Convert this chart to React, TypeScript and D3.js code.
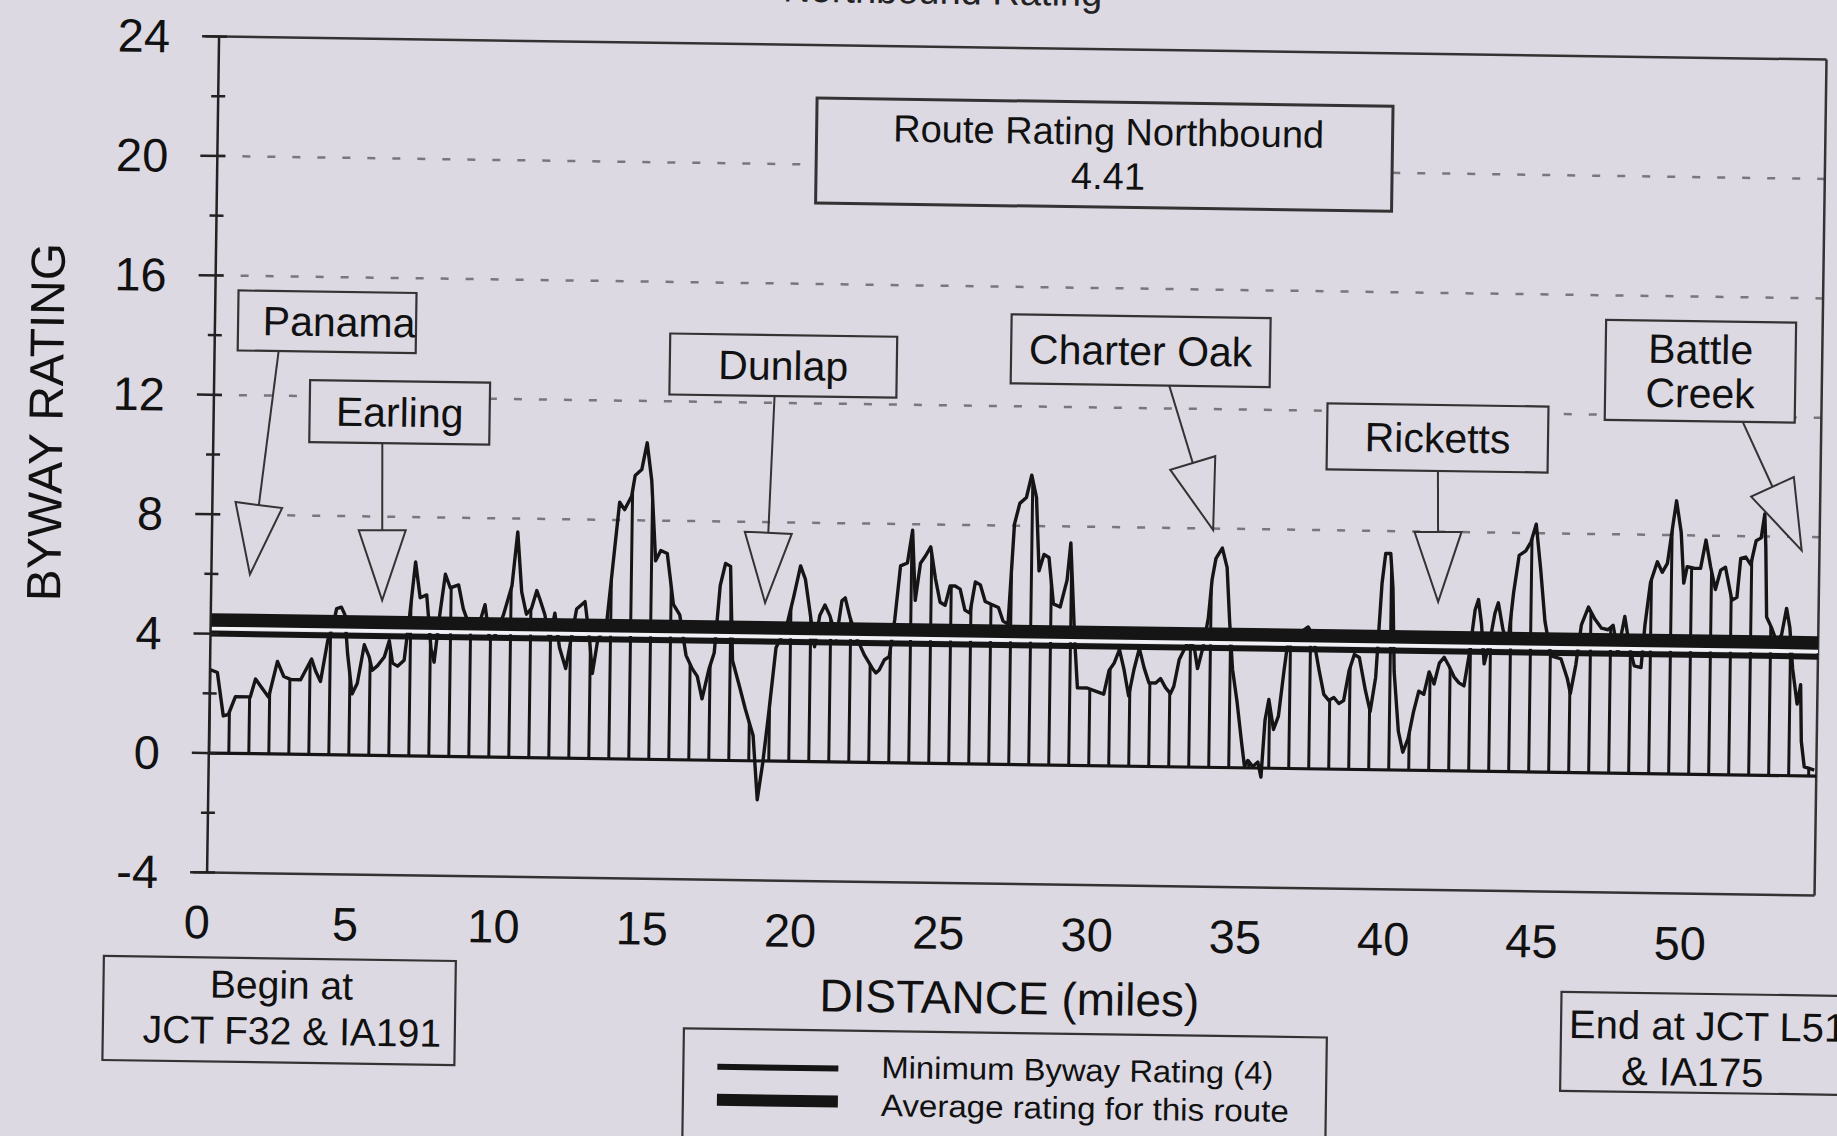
import React from 'react';
import * as d3 from 'd3';

// ---------------- data ----------------
const miles = [
  0.0, 0.25, 0.47, 0.64, 0.87, 1.37, 1.54, 1.76, 1.99, 2.27, 2.49, 2.74, 3.06, 3.42, 3.56, 3.73, 3.96, 4.12, 4.24, 4.4,
  4.52, 4.63, 4.8, 4.97, 5.19, 5.36, 5.47, 5.64, 5.87, 6.03, 6.15, 6.32, 6.54, 6.71, 6.88, 7.05, 7.27, 7.44, 7.55, 7.72,
  7.89, 8.06, 8.34, 8.51, 8.68, 9.01, 9.24, 9.41, 9.58, 9.86, 10.14, 10.31, 10.47, 10.64, 10.81, 10.98,
  11.09, 11.26, 11.43, 11.6, 11.77, 11.99, 12.16, 12.33, 12.61, 12.78, 12.89, 13.06, 13.34, 13.51, 13.73, 13.9, 14.13,
  14.24, 14.46, 14.63, 14.8, 14.97, 15.14, 15.36, 15.59, 15.81, 16.04, 16.26, 16.43, 16.6, 16.82, 16.99, 17.16, 17.33,
  17.5, 17.61, 17.84, 18.06, 18.23, 18.34, 18.51, 18.68, 18.85, 19.07, 19.41, 19.64, 19.86, 20.03, 20.2, 20.37, 20.53,
  20.7, 20.87, 21.1, 21.27, 21.38, 21.55, 21.77, 22.05, 22.33,
  22.45, 22.56, 22.73, 22.89, 23.06, 23.23, 23.46, 23.62, 23.74, 23.9, 24.07, 24.24, 24.41, 24.58, 24.75, 24.91, 25.08,
  25.25, 25.42, 25.59, 25.76, 25.93, 26.1, 26.32, 26.55, 26.71, 26.88, 27.05, 27.22, 27.44, 27.61, 27.78, 27.9, 28.06,
  28.23, 28.4, 28.63, 28.85, 28.96, 29.13, 29.25, 29.58, 29.86, 30.14, 30.31, 30.48, 30.65, 30.81, 30.98, 31.15, 31.32,
  31.49, 31.66, 31.89, 32.05, 32.22, 32.39, 32.5, 32.67, 32.84, 33.01, 33.18, 33.29, 33.46, 33.63,
  33.74, 33.86, 34.07, 34.24, 34.35, 34.47, 34.64, 34.81, 34.92, 35.03, 35.2, 35.37, 35.48, 35.59, 35.71, 35.88, 36.04,
  36.21, 36.32, 36.44, 36.72, 37.0, 37.17, 37.39, 37.56, 37.73, 37.9, 38.07, 38.23, 38.4, 38.57, 38.74, 38.96, 39.13,
  39.3, 39.47, 39.58, 39.75, 39.84, 39.92, 40.09, 40.25, 40.42, 40.59, 40.76, 40.93, 41.1, 41.27, 41.44, 41.6, 41.77,
  41.94, 42.11, 42.28, 42.45, 42.62, 42.73, 42.84, 42.95, 43.12, 43.29, 43.4, 43.57, 43.74, 43.91, 44.08, 44.3, 44.47,
  44.64, 44.81, 44.98,
  45.2, 45.54, 45.76, 45.87, 46.04, 46.21, 46.44, 46.66, 46.89, 47.11, 47.28, 47.45, 47.67, 47.84, 48.01, 48.24, 48.35,
  48.52, 48.74, 48.91, 49.08, 49.25, 49.36, 49.53, 49.64, 49.75, 49.98, 50.2, 50.37, 50.54, 50.71, 50.88, 51.04, 51.27,
  51.44, 51.55, 51.72, 51.89, 52.06, 52.23, 52.34, 52.39, 52.45, 52.62, 52.79, 52.96, 53.12, 53.24, 53.35, 53.52, 53.63,
  53.68, 53.79, 53.96, 54.13,
];

const ratings = [
  2.8, 2.7, 1.25, 1.3, 1.9, 1.9, 2.5, 2.2, 1.9, 3.1, 2.6, 2.5, 2.5, 3.2, 2.8, 2.45, 3.85, 4.3, 4.9, 4.95,
  4.7, 3.4, 2.05, 2.4, 3.7, 3.3, 2.85, 3.0, 3.3, 3.85, 3.1, 3.0, 3.2, 4.75, 6.5, 5.3, 5.4, 3.6, 3.15, 4.75,
  6.1, 5.65, 5.75, 4.95, 4.5, 4.3, 5.1, 3.95, 4.05, 4.75, 5.75, 7.55, 5.55, 4.8, 5.0, 5.6,
  5.3, 4.8, 3.95, 4.85, 3.7, 3.0, 4.0, 5.0, 5.25, 4.0, 2.85, 4.0, 4.45, 6.25, 8.6, 8.35, 8.8,
  9.5, 9.7, 10.6, 9.35, 6.65, 7.0, 6.9, 5.2, 4.85, 3.5, 3.05, 2.8, 2.05, 3.05, 3.6, 5.85, 6.6,
  6.5, 3.35, 2.55, 1.75, 1.2, 0.85, -1.3, -0.05, 1.55, 3.8, 4.5, 5.5, 6.55, 6.1, 5.0, 3.85, 4.9,
  5.25, 4.9, 4.15, 5.4, 5.5, 4.85, 4.2, 3.6, 3.15,
  3.0, 3.1, 3.45, 3.55, 4.8, 6.6, 6.7, 7.8, 5.45, 6.7, 6.95, 7.25, 6.2, 5.4, 5.3, 5.95, 5.95,
  5.85, 5.15, 5.05, 6.1, 6.0, 5.45, 5.35, 5.25, 4.8, 4.7, 8.05, 8.75, 8.95, 9.7, 8.95, 6.5, 7.05,
  6.95, 5.4, 5.3, 6.2, 7.45, 4.3, 2.6, 2.6, 2.5, 2.4, 3.2, 3.45, 3.9, 3.25, 2.35, 3.25, 3.95,
  3.3, 2.8, 2.8, 2.95, 2.65, 2.45, 2.7, 3.6, 3.95, 4.3, 3.95, 3.3, 4.0, 5.0,
  6.3, 7.0, 7.35, 6.7, 4.9, 3.3, 2.2, 0.85, 0.05, 0.25, 0.05, 0.2, -0.3, 1.6, 2.3, 1.3, 1.75,
  3.3, 4.2, 4.45, 4.55, 4.75, 4.45, 3.3, 2.5, 2.3, 2.4, 2.2, 2.3, 3.3, 3.85, 3.75, 2.65, 1.95,
  3.1, 6.25, 7.25, 7.25, 6.1, 3.3, 1.3, 0.6, 1.05, 1.95, 2.65, 2.55, 3.3, 2.9, 3.6, 3.8, 3.5,
  3.15, 2.95, 2.85, 3.95, 5.4, 5.75, 4.95, 3.6, 4.3, 5.3, 5.65, 4.75, 4.3, 6.0, 7.25, 7.4, 7.7,
  8.3, 6.8, 5.05,
  3.9, 3.8, 3.15, 2.65, 3.6, 4.95, 5.55, 5.15, 4.85, 4.8, 4.95, 4.05, 5.25, 4.25, 3.6, 3.55, 4.95,
  6.4, 7.1, 6.75, 7.05, 8.35, 9.15, 8.1, 6.4, 6.95, 6.9, 6.9, 7.85, 6.95, 6.2, 6.85, 6.95, 5.85,
  5.95, 7.25, 7.3, 7.05, 7.85, 7.95, 8.75, 7.65, 5.3, 4.95, 4.5, 4.7, 5.6, 4.95, 3.6, 2.4, 3.05,
  1.15, 0.3, 0.25, 0.2,
];

const routeLength = 54.2;
const yTicks = [-4, 0, 4, 8, 12, 16, 20, 24];
const yMinorTicks = [-2, 2, 6, 10, 14, 18, 22];
const xTicks = [0, 5, 10, 15, 20, 25, 30, 35, 40, 45, 50];
const gridValues = [8, 12, 16, 20];
const minimumRating = 4;
const averageRating = 4.41;

const chartTitle = 'Northbound Rating';
const routeRatingLines = ['Route Rating Northbound', '4.41'];
const xAxisTitle = 'DISTANCE (miles)';
const yAxisTitle = 'BYWAY RATING';
const beginLines = ['Begin at', 'JCT F32 & IA191'];
const endLines = ['End at JCT L51', '& IA175'];
const legendLabels = ['Minimum Byway Rating (4)', 'Average rating for this route'];

// town callouts: labels, arrow tip (mile, rating), box centre (mile, rating), stem start mile
const townLabels = [['Panama'], ['Earling'], ['Dunlap'], ['Charter Oak'], ['Ricketts'], ['Battle', 'Creek']];
const townTipMiles = [1.3, 5.77, 18.68, 33.75, 41.37, 53.6];
const townTipRatings = [6.0, 5.2, 5.3, 7.95, 5.65, 7.55];
const townBoxMiles = [3.78, 6.27, 19.18, 31.22, 41.27, 50.1];
const townBoxRatings = [14.5, 11.5, 13.25, 13.92, 11.14, 13.5];
const townStemMiles = [2.16, 5.7, 18.9, 32.2, 41.3, 51.55];

// ---------------- layout / style ----------------
const W = 1837;
const H = 1136;
const BG = '#dcd9e3';
const INK = '#151515';
const FONT = '"Liberation Sans", Arial, Helvetica, sans-serif';
const TILT = 0.82;
const townBoxSize = [[178, 60], [180, 62], [227, 61], [259, 69], [221, 66], [190, 100]];
const townTextDx = [12, 0, 0, 0, 0, 0];

export default function App() {
  const x = d3.scaleLinear().domain([0, routeLength]).range([213, 1820.6]);
  const y = d3.scaleLinear().domain([-4, 24]).range([884, 48]);

  const idx = d3.range(miles.length);
  const area = d3
    .area<number>()
    .x((i) => x(miles[i]))
    .y0(y(0))
    .y1((i) => y(ratings[i]));
  const line = d3
    .line<number>()
    .x((i) => x(miles[i]))
    .y((i) => y(ratings[i]));

  const x0 = x(0);
  const x1 = x(routeLength);
  const cx = (x0 + x1) / 2;
  const cy = 466;

  const tickFont = 47;
  const boxFont = 41;

  const callouts = townLabels.map((lab, i) => {
    const tx = x(townTipMiles[i]);
    const ty = y(townTipRatings[i]);
    const bx = x(townBoxMiles[i]);
    const by = y(townBoxRatings[i]);
    const [bw, bh] = townBoxSize[i];
    const sx = x(townStemMiles[i]);
    const sy = by + bh / 2;
    const dx = tx - sx;
    const dy = ty - sy;
    const len = Math.hypot(dx, dy);
    const ux = dx / len;
    const uy = dy / len;
    const L = 70;
    const HW = 23.5;
    const basex = tx - ux * L;
    const basey = ty - uy * L;
    const nx = -uy;
    const ny = ux;
    const tri = [
      [basex + nx * HW, basey + ny * HW],
      [tx, ty],
      [basex - nx * HW, basey - ny * HW],
    ];
    return { lab, bx, by, bw, bh, sx, sy, basex, basey, tri, tdx: townTextDx[i] };
  });

  const rrBoxX = x(29.9);
  const rrBoxY = y(20.47);

  return (
    <svg
      width={W}
      height={H}
      viewBox={`0 0 ${W} ${H}`}
      style={{ position: 'absolute', left: 0, top: 0, display: 'block', overflow: 'hidden' }}
      fontFamily={FONT}
    >
      <defs>
        <pattern id="hatch" patternUnits="userSpaceOnUse" x={x0 - 1.5} y={0} width={20} height={10}>
          <rect x={0} y={0} width={3} height={10} fill={INK} />
        </pattern>
      </defs>
      <rect x={0} y={0} width={W} height={H} fill={BG} />
      <g transform={`rotate(${TILT} ${cx} ${cy})`}>
        {/* title (cut off at top) */}
        <text x={936} y={5} fontSize={38} textAnchor="middle" fill="#222">
          {chartTitle}
        </text>

        {/* grid */}
        {gridValues.map((v) => (
          <line
            key={`g${v}`}
            x1={x0}
            x2={x1}
            y1={y(v)}
            y2={y(v)}
            stroke="#77777d"
            strokeWidth={2.5}
            strokeDasharray="8 17"
          />
        ))}

        {/* frame */}
        <line x1={x0 - 14} x2={x1} y1={y(24)} y2={y(24)} stroke="#333" strokeWidth={2.5} />
        <line x1={x0 - 14} x2={x1} y1={y(-4)} y2={y(-4)} stroke="#333" strokeWidth={2.5} />
        <line x1={x1} x2={x1} y1={y(24)} y2={y(-4)} stroke="#333" strokeWidth={2.5} />

        {/* hatched area + profile */}
        <path d={area(idx) ?? ''} fill="url(#hatch)" />
        <line x1={x0} x2={x1} y1={y(0)} y2={y(0)} stroke={INK} strokeWidth={3.2} />
        <path d={line(idx) ?? ''} fill="none" stroke={INK} strokeWidth={3.4} strokeLinejoin="round" />

        {/* minimum & average lines */}
        <line
          x1={x0}
          x2={x1}
          y1={y((minimumRating + averageRating) / 2)}
          y2={y((minimumRating + averageRating) / 2)}
          stroke="#f2f1f5"
          strokeWidth={5}
        />
        <line x1={x0} x2={x1} y1={y(minimumRating)} y2={y(minimumRating)} stroke={INK} strokeWidth={6} />
        <line x1={x0} x2={x1} y1={y(averageRating) - 1.5} y2={y(averageRating) - 1.5} stroke={INK} strokeWidth={13.5} />

        {/* y axis */}
        <line x1={x0} x2={x0} y1={y(24)} y2={y(-4)} stroke="#222" strokeWidth={2.5} />
        {yTicks.map((v) => (
          <g key={`yt${v}`}>
            <line x1={x0 - 17} x2={x0 + 8} y1={y(v)} y2={y(v)} stroke="#222" strokeWidth={2.5} />
            <text x={164} y={y(v) + tickFont * 0.35} fontSize={tickFont} textAnchor="end" fill="#111">
              {v}
            </text>
          </g>
        ))}
        {yMinorTicks.map((v) => (
          <line key={`ym${v}`} x1={x0 - 7} x2={x0 + 7} y1={y(v)} y2={y(v)} stroke="#222" strokeWidth={2.5} />
        ))}

        {/* x tick labels */}
        {xTicks.map((v) => (
          <text key={`xt${v}`} x={x(v) - 9.5} y={950} fontSize={tickFont} textAnchor="middle" fill="#111">
            {v}
          </text>
        ))}

        {/* axis titles */}
        <text x={1017} y={1014} fontSize={46} textAnchor="middle" fill="#111">
          {xAxisTitle}
        </text>
        <text transform="translate(62,436) rotate(-90)" fontSize={48} textAnchor="middle" fill="#111">
          {yAxisTitle}
        </text>

        {/* route rating box */}
        <rect x={rrBoxX - 288} y={rrBoxY - 52.5} width={576} height={105} fill={BG} stroke="#333" strokeWidth={3} />
        {routeRatingLines.map((t, i) => (
          <text
            key={`rr${i}`}
            x={rrBoxX + 4}
            y={rrBoxY - 10 + i * 44.5}
            fontSize={38}
            textAnchor="middle"
            fill="#111"
          >
            {t}
          </text>
        ))}

        {/* town callouts */}
        {callouts.map((c, i) => (
          <g key={`c${i}`}>
            <line x1={c.sx} y1={c.sy} x2={c.basex} y2={c.basey} stroke="#333" strokeWidth={2} />
            <polygon
              points={c.tri.map((p) => p.join(',')).join(' ')}
              fill={BG}
              stroke="#333"
              strokeWidth={2}
              strokeLinejoin="miter"
            />
            <rect x={c.bx - c.bw / 2} y={c.by - c.bh / 2} width={c.bw} height={c.bh} fill={BG} stroke="#333" strokeWidth={2.2} />
            {c.lab.map((t, j) => (
              <text
                key={j}
                x={c.bx + c.tdx}
                y={c.by + boxFont * 0.35 + (j - (c.lab.length - 1) / 2) * 44}
                fontSize={boxFont}
                textAnchor="middle"
                fill="#111"
              >
                {t}
              </text>
            ))}
          </g>
        ))}

        {/* begin / end boxes */}
        <rect x={111} y={969} width={352} height={104} fill={BG} stroke="#333" strokeWidth={2.2} />
        <text x={289} y={1009} fontSize={39} textAnchor="middle" fill="#111">
          {beginLines[0]}
        </text>
        <text x={300} y={1055} fontSize={39} textAnchor="middle" fill="#111">
          {beginLines[1]}
        </text>

        <rect x={1569} y={984} width={310} height={99} fill={BG} stroke="#333" strokeWidth={2.2} />
        <text x={1577} y={1030} fontSize={40} textAnchor="start" fill="#111">
          {endLines[0]}
        </text>
        <text x={1701} y={1076} fontSize={40} textAnchor="middle" fill="#111">
          {endLines[1]}
        </text>

        {/* legend */}
        <rect x={692} y={1033} width={643} height={130} fill={BG} stroke="#333" strokeWidth={2.2} />
        <line x1={726} x2={847} y1={1071} y2={1071} stroke={INK} strokeWidth={6} />
        <line x1={726} x2={847} y1={1104} y2={1104} stroke={INK} strokeWidth={12} />
        <text x={890} y={1080} fontSize={31} fill="#111" textLength={392} lengthAdjust="spacingAndGlyphs">
          {legendLabels[0]}
        </text>
        <text x={890} y={1118} fontSize={31} fill="#111" textLength={408} lengthAdjust="spacingAndGlyphs">
          {legendLabels[1]}
        </text>
      </g>
    </svg>
  );
}
